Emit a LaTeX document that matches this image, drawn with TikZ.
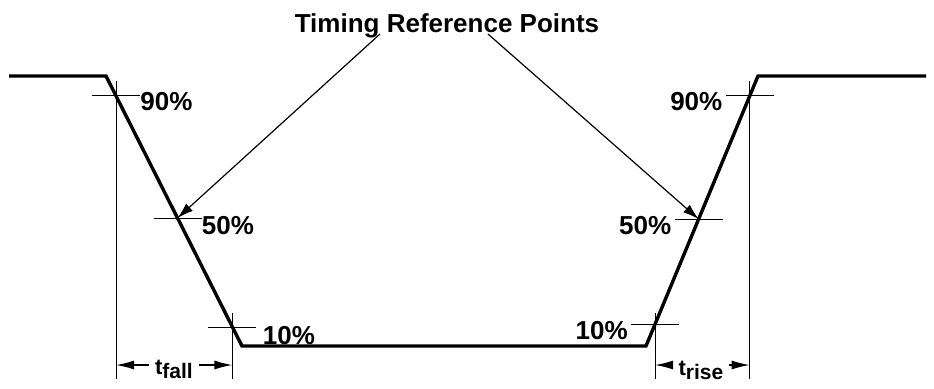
\documentclass[tikz,border=0pt]{standalone}
\usepackage{fontspec}
\setmainfont{Liberation Sans}
\usetikzlibrary{arrows.meta, positioning, calc}

\begin{document}
\begin{tikzpicture}[
    x=0.5pt, y=-0.5pt,
    wave/.style={line width=1.7pt, line join=miter},
    hair/.style={line width=0.5pt},
    ptr/.style={line width=0.6pt, -{Latex[length=8pt, width=5pt]}},
    dim/.style={line width=0.7pt, -{Latex[length=9pt, width=4.5pt]}},
    pct/.style={font=\fontsize{13}{15}\selectfont\bfseries, inner sep=0pt},
    tlbl/.style={font=\fontsize{11}{12}\selectfont\bfseries, inner ysep=0pt}
]
    \useasboundingbox (0,0) rectangle (934,388);

    % --- waveform ---
    \coordinate (w0) at (9,76);
    \coordinate (w1) at (106,76);
    \coordinate (w2) at (242,346);
    \coordinate (w3) at (646,346);
    \coordinate (w4) at (758,76);
    \coordinate (w5) at (926,76);
    \draw[wave] (w0) -- (w1) -- (w2) -- (w3) -- (w4) -- (w5);

    % --- crossing points ---
    \coordinate (f90) at ($(w1)!0.074!(w2)$);
    \coordinate (f50) at ($(w1)!0.526!(w2)$);
    \coordinate (f10) at ($(w1)!0.930!(w2)$);
    \coordinate (r10) at ($(w3)!0.081!(w4)$);
    \coordinate (r50) at ($(w3)!0.470!(w4)$);
    \coordinate (r90) at ($(w3)!0.926!(w4)$);
    \coordinate (dimy) at (0,365);

    % --- level ticks ---
    \foreach \p in {f90, f50, f10, r10, r50, r90}
        \draw[hair] ($(\p)+(-24,0)$) -- ($(\p)+(24,0)$);

    % --- extension lines ---
    \draw[hair] ($(f90)+(0,-15)$) -- (f90 |- 0,379);
    \draw[hair] ($(f10)+(0,-14)$) -- (f10 |- 0,379);
    \draw[hair] ($(r10)+(0,-11)$) -- (r10 |- 0,379);
    \draw[hair] ($(r90)+(0,-15)$) -- (r90 |- 0,379);

    % --- percent labels ---
    \node[pct, anchor=west] (l90) at ($(f90)+(24,6)$) {90\%};
    \node[pct, anchor=west] (l50) at ($(f50)+(24,8)$) {50\%};
    \node[pct, anchor=west] (l10) at ($(f10)+(30,8)$) {10\%};
    \node[pct, anchor=east] (m10) at ($(r10)+(-27,6)$) {10\%};
    \node[pct, anchor=east] (m50) at ($(r50)+(-27,6)$) {50\%};
    \node[pct, anchor=east] (m90) at ($(r90)+(-27,6)$) {90\%};

    % --- title and pointers ---
    \node[pct, anchor=base] (title) at (447,32) {Timing Reference Points};
    \draw[ptr] ($(title.base)+(-67,2)$) -- (f50);
    \draw[ptr] ($(title.base)+(41,2)$) -- (r50);

    % --- fall / rise times ---
    \node[tlbl, inner xsep=3pt] (tfall) at (174,369) {t\raisebox{-2pt}{\fontsize{10.5}{12}\selectfont fall}};
    \draw[dim] (tfall.west |- dimy) -- (f90 |- dimy);
    \draw[dim] (tfall.east |- dimy) -- (f10 |- dimy);
    \node[tlbl, inner xsep=2.5pt] (trise) at (701,370) {t\raisebox{-2pt}{\fontsize{10.5}{12}\selectfont rise}};
    \draw[dim] (trise.west |- dimy) -- (r10 |- dimy);
    \draw[dim] (trise.east |- dimy) -- (r90 |- dimy);
\end{tikzpicture}
\end{document}
